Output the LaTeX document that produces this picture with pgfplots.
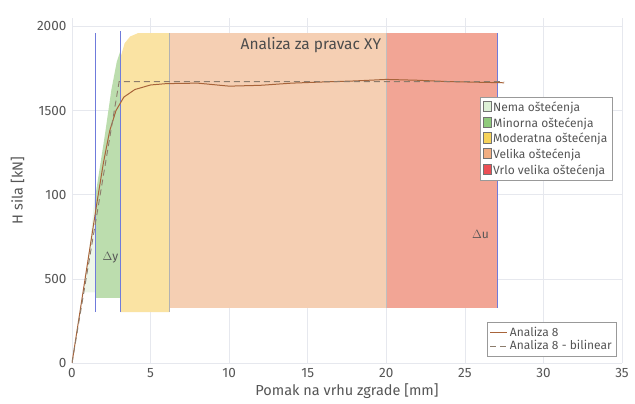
\documentclass[border=0pt]{standalone}
\usepackage{pgfplots}
\pgfplotsset{compat=1.18}
\usepackage{fontspec}
\setmainfont{Fira Sans}
\definecolor{txt}{HTML}{555555}
\definecolor{gridc}{HTML}{E6E8EE}
\definecolor{nemaF}{HTML}{EEF6EA}
\definecolor{minF}{HTML}{BCDDAE}
\definecolor{modF}{HTML}{FAE3A3}
\definecolor{velF}{HTML}{F5CFB3}
\definecolor{vrloF}{HTML}{F2A595}
\definecolor{nemaL}{HTML}{DDF0D6}
\definecolor{minL}{HTML}{8FCB7C}
\definecolor{modL}{HTML}{F6D35A}
\definecolor{velL}{HTML}{F1AE82}
\definecolor{vrloL}{HTML}{EC4F55}
\definecolor{bluel}{HTML}{6F7BDB}
\definecolor{curve}{HTML}{A8643A}
\definecolor{bil}{HTML}{8C7C6C}
\pgfplotsset{
  base/.style={
    scale only axis, width=550pt, height=345pt,
    at={(0,0)}, anchor=south west,
    xmin=0, xmax=35, ymin=0, ymax=2050,
    xtick={0,5,...,35}, ytick={0,500,1000,1500,2000},
    yticklabels={0,500,100,1500,2000},
    /pgf/number format/assume math mode=true,
    tick label style={font=\fontsize{13.5}{15}\selectfont, text=txt},
    tick style={draw=none},
  }
}
\begin{document}
\begin{tikzpicture}
\path[use as bounding box] (-72pt,-41pt) rectangle (563pt,363pt);
% zones axis
\begin{axis}[base,
  axis lines=left, axis line style={draw=gridc, -},
  grid=major, grid style={draw=gridc, line width=0.6pt},
  xlabel={Pomak na vrhu zgrade [mm]}, ylabel={H sila [kN]},
  label style={font=\fontsize{14.5}{16}\selectfont, text=txt},
  xlabel style={yshift=1pt}, ylabel style={yshift=6pt},
  legend style={at={(0.742,0.771)}, anchor=north west, draw=gray!80,
    font=\fontsize{12}{13}\selectfont, text=txt, row sep=0.6pt, inner sep=2.5pt},
  legend cell align=left,
  legend image code/.code={\draw[#1, draw=gray!90!black] (0cm,-0.15cm) rectangle (0.28cm,0.22cm);},
]
% Nema ostecenja (faint)
\addplot[fill=nemaF, draw=none, forget plot] coordinates {(0.75,420) (1.5,420) (1.5,1050) (1.2,760) (0.9,520)} -- cycle;
% Minorna
\addplot[fill=minF, draw=none, forget plot] coordinates {(1.5,387) (3.1,387) (3.1,1860) (2.85,1790) (2.5,1620) (2.1,1360) (1.75,1150) (1.5,1000)} -- cycle;
% Moderatna
\addplot[fill=modF, draw=none, forget plot] coordinates {(3.1,303) (6.2,303) (6.2,1960) (4.2,1960) (3.7,1940) (3.35,1900) (3.1,1820)} -- cycle;
% Velika
\addplot[fill=velF, draw=none, forget plot] coordinates {(6.2,327) (20,327) (20,1960) (6.2,1960)} -- cycle;
% Vrlo velika
\addplot[fill=vrloF, draw=none, forget plot] coordinates {(20,327) (27.1,327) (27.1,1960) (20,1960)} -- cycle;
% zone edges
\addplot[draw=gray!60, line width=0.5pt, forget plot] coordinates {(6.2,303) (6.2,1960)};
\addplot[draw=gray!50, line width=0.5pt, forget plot] coordinates {(20,327) (20,1960)};
\addplot[draw=bluel, line width=0.8pt, forget plot] coordinates {(1.5,303) (1.5,1960)};
\addplot[draw=bluel, line width=0.8pt, forget plot] coordinates {(3.1,303) (3.1,1975)};
\addplot[draw=bluel, line width=0.8pt, forget plot] coordinates {(27.1,327) (27.1,1960)};
\addlegendimage{fill=nemaL}\addlegendentry{Nema oštećenja}
\addlegendimage{fill=minL}\addlegendentry{Minorna oštećenja}
\addlegendimage{fill=modL}\addlegendentry{Moderatna oštećenja}
\addlegendimage{fill=velL}\addlegendentry{Velika oštećenja}
\addlegendimage{fill=vrloL}\addlegendentry{Vrlo velika oštećenja}
\node[font=\fontsize{15.5}{17}\selectfont, text=txt!90!black] at (axis cs:15.2,1890) {Analiza za pravac XY};
\node[font=\fontsize{12}{13}\selectfont\rmfamily, text=txt] at (axis cs:2.45,625) {$\Delta$y};
\node[font=\fontsize{12}{13}\selectfont\rmfamily, text=txt] at (axis cs:26.0,765) {$\Delta$u};
\end{axis}
% curves axis
\begin{axis}[base, hide axis,
  legend style={at={(0.99,0.02)}, anchor=south east, draw=gray!80,
    font=\fontsize{12}{13}\selectfont, text=txt, row sep=-1pt, inner sep=2.5pt},
  legend cell align=left,
]
\addplot[curve, line width=1pt] coordinates {(0,0) (0.4,240) (0.8,480) (1.2,720) (1.6,960) (2.0,1190) (2.4,1380) (2.8,1500) (3.3,1580) (4.0,1625) (5.0,1652) (6.0,1660) (8,1663) (10,1645) (12,1650) (14,1663) (16,1670) (18,1676) (20,1685) (22,1680) (24,1672) (26,1668) (27.5,1665)};
\addlegendentry{Analiza 8}
\addplot[bil, line width=0.9pt, dash pattern=on 6pt off 4pt] coordinates {(0,0) (3.0,1672) (27.5,1672)};
\addlegendentry{Analiza 8 - bilinear}
\end{axis}
\end{tikzpicture}
\end{document}
